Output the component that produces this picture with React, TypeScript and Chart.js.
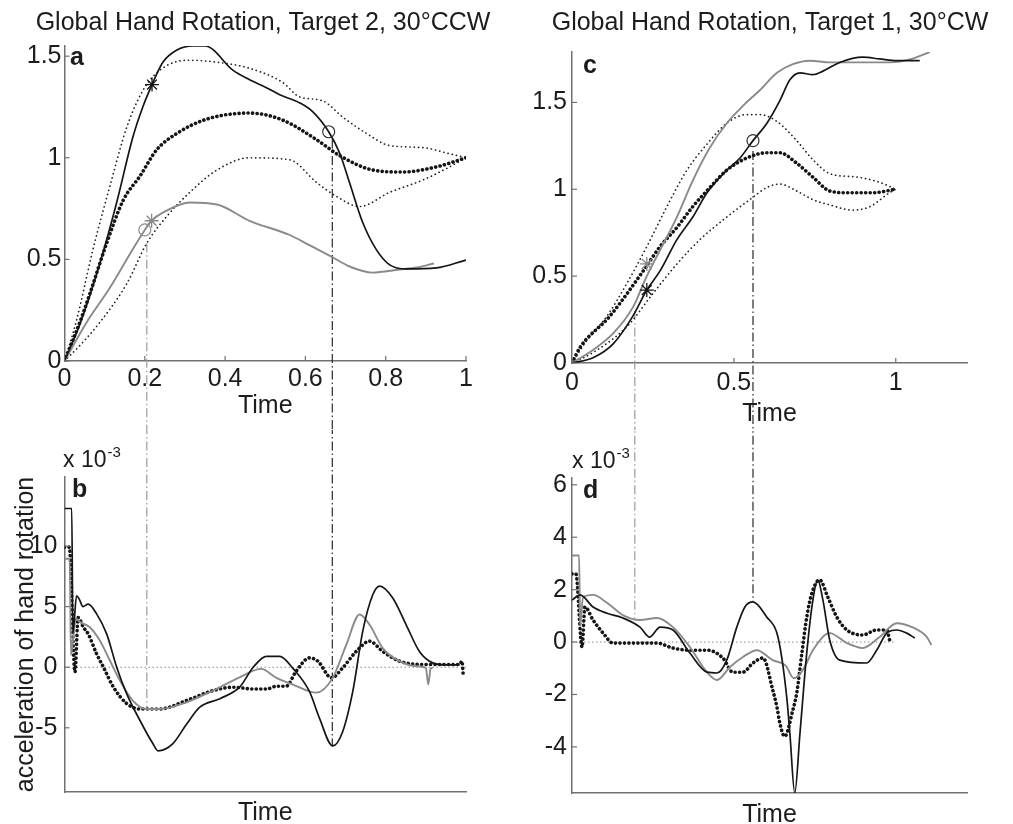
import React, { useEffect, useRef } from 'react';
import { Chart, registerables } from 'chart.js';

Chart.register(...registerables);

const FONT = "'Liberation Sans', Arial, Helvetica, sans-serif";
const TEXT = '#1c1c1c';
const AXIS = '#707070';
const BLACK = '#151515';
const GRAY = '#8a8a8a';
const GUIDE_LIGHT = '#9a9a9a';
const GUIDE_DARK = '#2a2a2a';

// ---------------- Panel a : rotation vs time (Target 2, 30°CCW) ----------------
const aTitle = 'Global Hand Rotation, Target 2, 30°CCW';
const aXTicks = [0, 0.2, 0.4, 0.6, 0.8, 1];
const aXLabels = ['0', '0.2', '0.4', '0.6', '0.8', '1'];
const aYTicks = [0, 0.5, 1, 1.5];
const aYLabels = ['0', '0.5', '1', '1.5'];

const aBlackT = [0, 0.04, 0.088, 0.13, 0.17, 0.195, 0.218, 0.245, 0.28, 0.32, 0.35, 0.42, 0.461, 0.503, 0.536, 0.586, 0.618, 0.658, 0.686, 0.71, 0.743, 0.777, 0.81, 0.852, 0.926, 1.0];
const aBlackV = [0, 0.19, 0.48, 0.78, 1.1, 1.25, 1.36, 1.47, 1.53, 1.55, 1.55, 1.43, 1.384, 1.345, 1.31, 1.27, 1.227, 1.128, 1.02, 0.877, 0.68, 0.547, 0.473, 0.453, 0.458, 0.497];

const aUpperT = [0, 0.03, 0.071, 0.113, 0.155, 0.195, 0.237, 0.305, 0.38, 0.461, 0.544, 0.585, 0.643, 0.693, 0.752, 0.81, 0.892, 0.959, 1.0];
const aUpperV = [0, 0.2, 0.55, 0.86, 1.15, 1.33, 1.43, 1.48, 1.47, 1.44, 1.37, 1.3, 1.28, 1.2, 1.12, 1.06, 1.05, 1.02, 1.0];

const aMeanT = [0, 0.04, 0.063, 0.105, 0.146, 0.188, 0.23, 0.28, 0.354, 0.461, 0.544, 0.627, 0.686, 0.767, 0.842, 0.926, 1.0];
const aMeanV = [0, 0.2, 0.33, 0.58, 0.79, 0.91, 1.04, 1.12, 1.19, 1.22, 1.185, 1.09, 1.01, 0.94, 0.93, 0.955, 1.0];

const aLowerT = [0, 0.04, 0.088, 0.155, 0.205, 0.254, 0.312, 0.38, 0.461, 0.561, 0.627, 0.677, 0.735, 0.81, 0.892, 0.959, 1.0];
const aLowerV = [0, 0.08, 0.19, 0.38, 0.58, 0.71, 0.83, 0.94, 1.0, 0.99, 0.88, 0.81, 0.76, 0.83, 0.89, 0.955, 1.0];

const aGrayT = [0, 0.055, 0.113, 0.17, 0.2, 0.217, 0.254, 0.312, 0.38, 0.461, 0.561, 0.61, 0.668, 0.71, 0.767, 0.834, 0.877, 0.92];
const aGrayV = [0, 0.19, 0.36, 0.55, 0.645, 0.69, 0.74, 0.78, 0.77, 0.69, 0.62, 0.57, 0.51, 0.465, 0.435, 0.45, 0.46, 0.48];

const aBlackStar = [0.218, 1.36];
const aBlackCircle = [0.658, 1.128];
const aGrayStar = [0.217, 0.69];
const aGrayCircle = [0.2, 0.645];
const aGuideT = [0.205, 0.667];
const aGuideTop = [0.58, 1.09];

// ---------------- Panel b : acceleration (x 10^-3) ----------------
const bYTicks = [10, 5, 0, -5];
const bYLabels = ['10', '5', '0', '-5'];

const bBlackT = [0, 0.018, 0.021, 0.03, 0.037, 0.046, 0.059, 0.08, 0.105, 0.13, 0.155, 0.188, 0.22, 0.233, 0.27, 0.304, 0.337, 0.387, 0.436, 0.47, 0.503, 0.536, 0.569, 0.61, 0.635, 0.668, 0.693, 0.718, 0.743, 0.768, 0.785, 0.818, 0.851, 0.884, 0.917, 0.95, 0.984];
const bBlackV = [13.1, 13.1, 2.8, 5.9, 5.6, 5.0, 5.2, 4.4, 2.75, 0, -2.2, -4.4, -6.3, -6.9, -6.3, -4.7, -3.3, -2.6, -1.65, 0, 0.9, 0.9, -0.1, -2.0, -4.2, -6.5, -5.3, -2.0, 3.0, 6.0, 6.7, 5.7, 3.5, 1.3, 0.36, 0.2, 0.2];

const bGrayT = [0, 0.013, 0.016, 0.028, 0.04, 0.063, 0.088, 0.113, 0.138, 0.17, 0.205, 0.237, 0.304, 0.37, 0.436, 0.49, 0.528, 0.569, 0.627, 0.668, 0.702, 0.735, 0.76, 0.792, 0.834, 0.877, 0.9, 0.906, 0.912, 0.917];
const bGrayV = [8.95, 8.95, 1.0, 4.0, 3.7, 3.3, 2.2, 0.55, -1.1, -2.75, -3.45, -3.45, -2.9, -1.93, -0.83, -0.14, -0.88, -1.43, -2.1, -0.88, 1.87, 4.35, 3.5, 1.6, 0.5, 0.08, -0.05, -1.43, -0.1, -0.05];

const bMeanT = [0, 0.012, 0.026, 0.034, 0.047, 0.059, 0.08, 0.097, 0.122, 0.155, 0.188, 0.237, 0.304, 0.37, 0.42, 0.47, 0.503, 0.528, 0.552, 0.577, 0.61, 0.631, 0.665, 0.693, 0.727, 0.76, 0.792, 0.834, 0.9, 0.984, 0.99, 0.993];
const bMeanV = [9.9, 9.9, -0.4, 4.1, 3.3, 2.75, 1.1, 0, -1.65, -3.0, -3.45, -3.45, -2.75, -1.93, -1.65, -1.8, -1.8, -1.57, -1.57, -0.33, 0.77, 0.5, -0.88, -0.05, 1.32, 2.15, 1.32, 0.5, 0.22, 0.22, 0.5, -0.6];

const bZeroT = [0, 1];
const bGuideBottom = [-3.45, -6.5];

// ---------------- Panel c : rotation vs time (Target 1, 30°CW) ----------------
const cTitle = 'Global Hand Rotation, Target 1, 30°CW';
const cXTicks = [0, 0.5, 1];
const cXLabels = ['0', '0.5', '1'];
const cYTicks = [0, 0.5, 1, 1.5];
const cYLabels = ['0', '0.5', '1', '1.5'];

const cBlackT = [0, 0.065, 0.127, 0.188, 0.231, 0.272, 0.324, 0.373, 0.417, 0.478, 0.519, 0.559, 0.602, 0.642, 0.673, 0.704, 0.744, 0.775, 0.827, 0.898, 0.95, 1.003, 1.074];
const cBlackV = [0, 0.03, 0.11, 0.27, 0.42, 0.53, 0.71, 0.84, 0.98, 1.11, 1.18, 1.28, 1.38, 1.51, 1.63, 1.67, 1.66, 1.68, 1.73, 1.76, 1.75, 1.74, 1.74];

const cGrayT = [0, 0.065, 0.127, 0.188, 0.231, 0.272, 0.324, 0.373, 0.426, 0.478, 0.528, 0.58, 0.633, 0.682, 0.735, 0.796, 0.898, 0.981, 1.05, 1.105];
const cGrayV = [0, 0.075, 0.17, 0.32, 0.5, 0.65, 0.84, 1.05, 1.24, 1.38, 1.48, 1.57, 1.67, 1.72, 1.74, 1.73, 1.73, 1.73, 1.75, 1.79];

const cUpperT = [0, 0.046, 0.108, 0.17, 0.231, 0.293, 0.355, 0.417, 0.478, 0.54, 0.58, 0.633, 0.694, 0.744, 0.796, 0.88, 0.95, 1.0];
const cUpperV = [0, 0.13, 0.27, 0.46, 0.67, 0.9, 1.11, 1.26, 1.38, 1.43, 1.43, 1.39, 1.28, 1.17, 1.09, 1.07, 1.04, 1.0];

const cMeanT = [0, 0.025, 0.117, 0.22, 0.272, 0.324, 0.373, 0.426, 0.478, 0.54, 0.602, 0.642, 0.694, 0.744, 0.796, 0.849, 0.929, 1.0];
const cMeanV = [0, 0.09, 0.27, 0.53, 0.67, 0.78, 0.9, 1.01, 1.11, 1.18, 1.21, 1.21, 1.15, 1.07, 0.99, 0.98, 0.98, 1.0];

const cLowerT = [0, 0.065, 0.17, 0.25, 0.324, 0.395, 0.478, 0.549, 0.602, 0.642, 0.694, 0.744, 0.796, 0.867, 0.92, 0.981, 1.0];
const cLowerV = [0, 0.06, 0.21, 0.4, 0.57, 0.71, 0.84, 0.94, 1.01, 1.03, 0.99, 0.94, 0.91, 0.88, 0.9, 0.98, 1.0];

const cBlackStar = [0.231, 0.42];
const cGrayStar = [0.231, 0.57];
const cBlackCircle = [0.559, 1.28];
const cGuideT = [0.194, 0.559];
const cGuideTop = [0.3, 1.22];

// ---------------- Panel d : acceleration (x 10^-3) ----------------
const dYTicks = [6, 4, 2, 0, -2, -4];
const dYLabels = ['6', '4', '2', '0', '-2', '-4'];

const dGrayT = [0, 0.022, 0.025, 0.034, 0.065, 0.108, 0.157, 0.21, 0.262, 0.312, 0.364, 0.417, 0.448, 0.488, 0.528, 0.571, 0.62, 0.66, 0.685, 0.713, 0.744, 0.796, 0.849, 0.898, 0.95, 1.003, 1.05, 1.096, 1.11];
const dGrayV = [3.3, 3.3, 0.6, 1.7, 1.8, 1.5, 1.03, 0.84, 0.92, 0.57, -0.19, -1.15, -1.45, -0.95, -0.57, -0.31, -0.69, -0.9, -1.38, -1.07, -0.31, 0.34, -0.04, -0.23, 0.19, 0.72, 0.57, 0.19, -0.11];

const dBlackT = [0, 0.025, 0.065, 0.108, 0.157, 0.21, 0.24, 0.272, 0.312, 0.364, 0.417, 0.448, 0.478, 0.509, 0.534, 0.559, 0.602, 0.633, 0.648, 0.664, 0.673, 0.688, 0.704, 0.725, 0.744, 0.759, 0.775, 0.796, 0.827, 0.91, 0.941, 0.972, 1.003, 1.034, 1.059];
const dBlackV = [1.6, 1.8, 1.34, 1.1, 0.92, 0.57, 0.19, 0.57, 0.46, -0.42, -1.15, -1.18, -0.69, 0.57, 1.34, 1.53, 0.95, 0.34, -0.6, -2.2, -3.5, -5.76, -3.5, -0.42, 1.6, 2.37, 1.6, 0.08, -0.69, -0.8, -0.31, 0.34, 0.46, 0.34, 0.15];

const dMeanT = [0, 0.012, 0.031, 0.04, 0.065, 0.096, 0.127, 0.21, 0.262, 0.312, 0.364, 0.417, 0.466, 0.497, 0.528, 0.559, 0.59, 0.62, 0.633, 0.642, 0.657, 0.682, 0.694, 0.71, 0.725, 0.741, 0.765, 0.79, 0.818, 0.849, 0.898, 0.941, 0.972, 0.981];
const dMeanV = [2.6, 2.6, -0.19, 1.34, 0.84, 0.34, -0.04, -0.04, -0.04, -0.23, -0.31, -0.31, -0.61, -1.15, -1.15, -0.8, -0.61, -1.83, -2.48, -3.1, -3.6, -2.6, -1.95, -0.42, 0.95, 1.87, 2.37, 1.72, 0.95, 0.46, 0.27, 0.46, 0.46, 0.08];

const dZeroT = [0, 1];
const dGuideBottom = [0.9, 1.53];

// ---------------- helpers ----------------
const pts = (t: number[], v: number[]) => t.map((x, i) => ({ x, y: v[i] }));

const solid = (data: any[], color: string, width: number) => ({
  data, borderColor: color, borderWidth: width, pointRadius: 0, fill: false,
  cubicInterpolationMode: 'monotone',
});
const meanDots = (data: any[]) => ({
  data, borderColor: BLACK, borderWidth: 3.6, borderDash: [0.1, 4.4], borderCapStyle: 'round',
  pointRadius: 0, fill: false, cubicInterpolationMode: 'monotone',
});
const thinDots = (data: any[]) => ({
  data, borderColor: '#202020', borderWidth: 1.7, borderDash: [0.1, 4.2], borderCapStyle: 'round',
  pointRadius: 0, fill: false, cubicInterpolationMode: 'monotone',
});
const guide = (t: number, y0: number, y1: number, color: string) => ({
  data: [{ x: t, y: y0 }, { x: t, y: y1 }], borderColor: color, borderWidth: 1.2,
  borderDash: [9, 3, 1.5, 3], pointRadius: 0, tension: 0, clip: false, fill: false,
});
const zeroLine = (t: number[]) => ({
  data: t.map((x) => ({ x, y: 0 })), borderColor: '#8a8a8a', borderWidth: 1,
  borderDash: [1.5, 2.5], pointRadius: 0, tension: 0, fill: false,
});
const star = (p: number[], color: string) => ({
  data: [{ x: p[0], y: p[1] }], showLine: false, pointStyle: 'star', pointRadius: 7,
  borderColor: color, backgroundColor: color, pointBorderWidth: 1.3, clip: false,
});
const ring = (p: number[], color: string) => ({
  data: [{ x: p[0], y: p[1] }], showLine: false, pointStyle: 'circle', pointRadius: 6,
  borderColor: color, backgroundColor: 'rgba(0,0,0,0)', pointBorderWidth: 1.2, clip: false,
});

const innerTicks = {
  id: 'innerTicks',
  afterDraw(chart: any, _args: any, opts: any) {
    const { ctx, chartArea } = chart;
    const len = 5;
    ctx.save();
    ctx.strokeStyle = AXIS;
    ctx.lineWidth = 1.2;
    if (opts.x) {
      const s = chart.scales.x;
      s.ticks.forEach((t: any) => {
        const p = s.getPixelForValue(t.value);
        ctx.beginPath(); ctx.moveTo(p, chartArea.bottom); ctx.lineTo(p, chartArea.bottom - len); ctx.stroke();
      });
    }
    if (opts.y) {
      const s = chart.scales.y;
      s.ticks.forEach((t: any) => {
        const p = s.getPixelForValue(t.value);
        ctx.beginPath(); ctx.moveTo(chartArea.left, p); ctx.lineTo(chartArea.left + len, p); ctx.stroke();
      });
    }
    ctx.restore();
  },
};

const panelText = {
  id: 'panelText',
  afterDraw(chart: any, _args: any, opts: any) {
    const { ctx, chartArea } = chart;
    const items = opts.items || [];
    ctx.save();
    ctx.fillStyle = TEXT;
    ctx.textAlign = 'left';
    ctx.textBaseline = 'alphabetic';
    for (let i = 0; i < items.length; i++) {
      const it = items[i];
      const x = chartArea.left + it.dx;
      const y = chartArea.top + it.dy;
      ctx.font = it.font;
      ctx.fillText(it.text, x, y);
      if (it.sup) {
        const w = ctx.measureText(it.text).width;
        ctx.font = it.supFont;
        ctx.fillText(it.sup, x + w + 1, y - it.supRise);
      }
    }
    ctx.restore();
  },
};

const tickFont = { family: FONT, size: 25, lineHeight: 1.2 };
const letterFont = `bold 25px ${FONT}`;

function buildConfig(p: any) {
  const { canvas, area } = p.geo;
  const titleH = p.title ? 30 + 8 + p.titlePadBottom : 0;
  return {
    type: 'line',
    data: { datasets: p.datasets },
    plugins: [innerTicks, panelText],
    options: {
      responsive: false,
      animation: false,
      events: [],
      devicePixelRatio: 1,
      layout: {
        padding: { left: 0, top: area.t - canvas.t - titleH, right: 0, bottom: 0 },
      },
      plugins: {
        legend: { display: false },
        tooltip: { enabled: false },
        title: p.title
          ? {
              display: true, text: p.title, color: TEXT,
              font: { family: FONT, size: 25, weight: 'normal', lineHeight: 1.2 },
              padding: { top: 8, bottom: p.titlePadBottom },
            }
          : { display: false },
        innerTicks: { x: p.xTicks != null, y: true },
        panelText: { items: p.texts },
      },
      scales: {
        x: {
          type: 'linear',
          min: p.xMin,
          max: p.xMax,
          afterFit: (s: any) => { s.height = canvas.t + canvas.h - area.b; },
          afterBuildTicks: (s: any) => {
            s.ticks = (p.xTicks || []).map((v: number) => ({ value: v }));
          },
          grid: { display: false, drawTicks: false },
          border: { display: true, color: AXIS, width: 1.5 },
          ticks: {
            display: p.xTicks != null,
            font: tickFont, color: TEXT, padding: p.xTickPad, maxRotation: 0, autoSkip: false,
            callback: (_v: any, i: number) => (p.xLabels ? p.xLabels[i] : ''),
          },
          title: {
            display: true, text: 'Time', color: TEXT,
            font: { family: FONT, size: 25, lineHeight: 1.2 },
            padding: { top: 0, bottom: p.xTitlePad },
          },
        },
        y: {
          type: 'linear',
          min: p.yMin,
          max: p.yMax,
          afterFit: (s: any) => { s.width = area.l - canvas.l; },
          afterBuildTicks: (s: any) => {
            s.ticks = p.yTicks.map((v: number) => ({ value: v }));
          },
          grid: { display: false, drawTicks: false },
          border: { display: true, color: AXIS, width: 1.5 },
          ticks: {
            font: tickFont, color: TEXT, padding: p.yTickPad, autoSkip: false,
            callback: (_v: any, i: number) => p.yLabels[i],
          },
          title: p.yTitle
            ? {
                display: true, text: p.yTitle, color: TEXT,
                font: { family: FONT, size: 25, lineHeight: 1.2 },
                padding: { top: p.yTitlePad, bottom: 0 },
              }
            : { display: false },
        },
        // empty spacer on the right so the full-width title centres over the panel
        yR: {
          type: 'linear',
          position: 'right',
          min: 0,
          max: 1,
          afterFit: (s: any) => { s.width = canvas.l + canvas.w - area.r; },
          grid: { display: false, drawTicks: false },
          border: { display: false },
          ticks: { display: false },
        },
      },
    },
  };
}

const PANELS = [
  {
    id: 'a',
    geo: { canvas: { l: 0, t: 0, w: 526, h: 430 }, area: { l: 64.5, t: 46, r: 466, b: 361 } },
    title: aTitle, titlePadBottom: 8,
    xMin: 0, xMax: 1, yMin: 0, yMax: 1.55,
    xTicks: aXTicks, xLabels: aXLabels, xTickPad: 3, xTitlePad: 9,
    yTicks: aYTicks, yLabels: aYLabels, yTickPad: 3,
    texts: [{ text: 'a', dx: 5.5, dy: 19, font: letterFont }],
    datasets: [
      star(aBlackStar, BLACK),
      ring(aBlackCircle, '#333333'),
      star(aGrayStar, GRAY),
      ring(aGrayCircle, GRAY),
      solid(pts(aBlackT, aBlackV), BLACK, 1.7),
      solid(pts(aGrayT, aGrayV), GRAY, 1.9),
      meanDots(pts(aMeanT, aMeanV)),
      thinDots(pts(aUpperT, aUpperV)),
      thinDots(pts(aLowerT, aLowerV)),
      guide(aGuideT[0], aGuideTop[0], -0.36, GUIDE_LIGHT),
      guide(aGuideT[1], aGuideTop[1], -0.36, GUIDE_DARK),
    ],
  },
  {
    id: 'b',
    geo: { canvas: { l: 0, t: 430, w: 506, h: 400 }, area: { l: 64.5, t: 477, r: 466, b: 792 } },
    title: null, titlePadBottom: 0,
    xMin: 0, xMax: 1, yMin: -10.3, yMax: 15.7,
    xTicks: null, xLabels: null, xTickPad: 0, xTitlePad: 1.5,
    yTicks: bYTicks, yLabels: bYLabels, yTickPad: 7,
    yTitle: 'acceleration of hand rotation', yTitlePad: 11,
    texts: [
      { text: 'b', dx: 7.5, dy: 20, font: letterFont },
      { text: 'x 10', dx: -1.5, dy: -10, font: `23px ${FONT}`, sup: '-3', supFont: `15px ${FONT}`, supRise: 10 },
    ],
    datasets: [
      solid(pts(bBlackT, bBlackV), BLACK, 1.7),
      solid(pts(bGrayT, bGrayV), GRAY, 1.9),
      meanDots(pts(bMeanT, bMeanV)),
      zeroLine(bZeroT),
      guide(aGuideT[0], 20, bGuideBottom[0], GUIDE_LIGHT),
      guide(aGuideT[1], 20, bGuideBottom[1], GUIDE_DARK),
    ],
  },
  {
    id: 'c',
    geo: { canvas: { l: 506, t: 0, w: 528, h: 430 }, area: { l: 572, t: 52, r: 967, b: 363 } },
    title: cTitle, titlePadBottom: 14,
    xMin: 0, xMax: 1.22, yMin: 0, yMax: 1.79,
    xTicks: cXTicks, xLabels: cXLabels, xTickPad: 5, xTitlePad: 0.5,
    yTicks: cYTicks, yLabels: cYLabels, yTickPad: 5,
    texts: [{ text: 'c', dx: 11, dy: 21, font: letterFont }],
    datasets: [
      star(cBlackStar, BLACK),
      star(cGrayStar, GRAY),
      ring(cBlackCircle, '#333333'),
      solid(pts(cBlackT, cBlackV), BLACK, 1.7),
      solid(pts(cGrayT, cGrayV), GRAY, 1.9),
      meanDots(pts(cMeanT, cMeanV)),
      thinDots(pts(cUpperT, cUpperV)),
      thinDots(pts(cLowerT, cLowerV)),
      guide(cGuideT[0], cGuideTop[0], -0.42, GUIDE_LIGHT),
      guide(cGuideT[1], cGuideTop[1], -0.42, GUIDE_DARK),
    ],
  },
  {
    id: 'd',
    geo: { canvas: { l: 506, t: 430, w: 507, h: 400 }, area: { l: 572, t: 478, r: 967, b: 793 } },
    title: null, titlePadBottom: 0,
    xMin: 0, xMax: 1.22, yMin: -5.76, yMax: 6.26,
    xTicks: null, xLabels: null, xTickPad: 0, xTitlePad: 0,
    yTicks: dYTicks, yLabels: dYLabels, yTickPad: 5,
    texts: [
      { text: 'd', dx: 11, dy: 20, font: letterFont },
      { text: 'x 10', dx: 0, dy: -10, font: `23px ${FONT}`, sup: '-3', supFont: `15px ${FONT}`, supRise: 10 },
    ],
    datasets: [
      solid(pts(dBlackT, dBlackV), BLACK, 1.7),
      solid(pts(dGrayT, dGrayV), GRAY, 1.9),
      meanDots(pts(dMeanT, dMeanV)),
      zeroLine(dZeroT),
      guide(cGuideT[0], 8.5, dGuideBottom[0], GUIDE_LIGHT),
      guide(cGuideT[1], 8.5, dGuideBottom[1], GUIDE_DARK),
    ],
  },
];

function Panel({ spec }: { spec: any }) {
  const ref = useRef<HTMLCanvasElement | null>(null);
  useEffect(() => {
    if (!ref.current) return;
    const chart = new Chart(ref.current, buildConfig(spec) as any);
    return () => chart.destroy();
  }, [spec]);
  const c = spec.geo.canvas;
  return (
    <canvas
      ref={ref}
      width={c.w}
      height={c.h}
      style={{ position: 'absolute', left: c.l, top: c.t, width: c.w, height: c.h }}
    />
  );
}

export default function App() {
  return (
    <div
      style={{
        position: 'fixed', left: 0, top: 0, width: 1013, height: 824,
        background: '#ffffff', overflow: 'hidden',
      }}
    >
      {PANELS.map((p) => (
        <Panel key={p.id} spec={p} />
      ))}
    </div>
  );
}
